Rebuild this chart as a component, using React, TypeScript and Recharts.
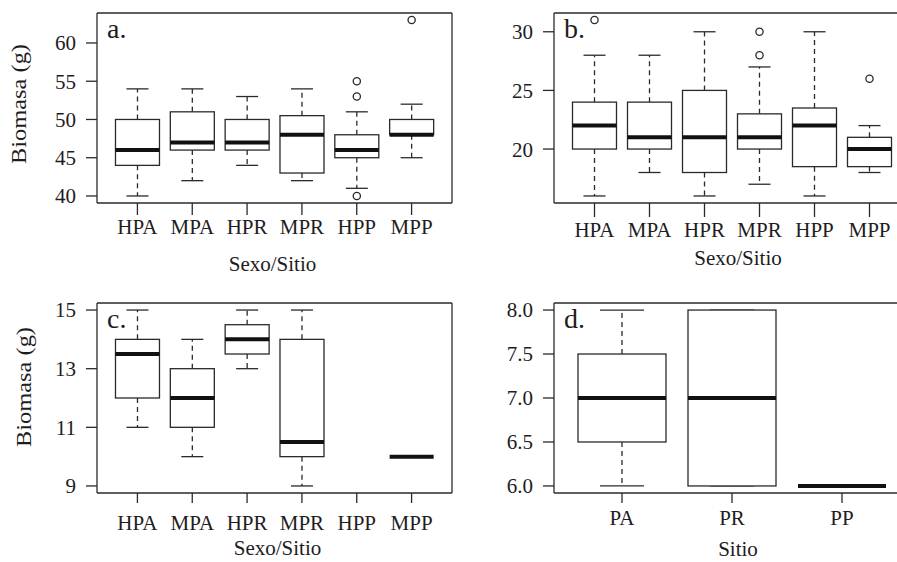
import { Bar, ComposedChart, XAxis, YAxis } from 'recharts'

const INK = '#1e1c1d'
const LINE = '#2a2a2a'
const FONT = '"Liberation Serif", "DejaVu Serif", serif'

// a. biomasa por sexo/sitio
const sexoSitio = ['HPA', 'MPA', 'HPR', 'MPR', 'HPP', 'MPP']
const aLow = [40, 42, 44, 42, 41, 45]
const aQ1 = [44, 46, 46, 43, 45, 48]
const aMedian = [46, 47, 47, 48, 46, 48]
const aQ3 = [50, 51, 50, 50.5, 48, 50]
const aHigh = [54, 54, 53, 54, 51, 52]
const aOutliers = [[], [], [], [], [55, 53, 40], [63]]
const aTicks = [40, 45, 50, 55, 60]

// b.
const bLow = [16, 18, 16, 17, 16, 18]
const bQ1 = [20, 20, 18, 20, 18.5, 18.5]
const bMedian = [22, 21, 21, 21, 22, 20]
const bQ3 = [24, 24, 25, 23, 23.5, 21]
const bHigh = [28, 28, 30, 27, 30, 22]
const bOutliers = [[31], [], [], [30, 28], [], [26]]
const bTicks = [20, 25, 30]

// c. (HPP sin datos)
const cLow = [11, 10, 13, 9, null, 10]
const cQ1 = [12, 11, 13.5, 10, null, 10]
const cMedian = [13.5, 12, 14, 10.5, null, 10]
const cQ3 = [14, 13, 14.5, 14, null, 10]
const cHigh = [15, 14, 15, 15, null, 10]
const cOutliers = [[], [], [], [], [], []]
const cTicks = [9, 11, 13, 15]

// d. por sitio
const sitio = ['PA', 'PR', 'PP']
const dLow = [6, 6, 6]
const dQ1 = [6.5, 6, 6]
const dMedian = [7, 7, 6]
const dQ3 = [7.5, 8, 6]
const dHigh = [8, 8, 6]
const dOutliers = [[], [], []]
const dTicks = [6, 6.5, 7, 7.5, 8]

function buildRows(cats, low, q1, median, q3, high, outliers) {
  return cats.map((cat, i) => {
    if (low[i] == null) return { cat, span: null }
    const out = outliers[i] || []
    return {
      cat,
      low: low[i],
      q1: q1[i],
      median: median[i],
      q3: q3[i],
      high: high[i],
      outliers: out,
      span: [Math.min(low[i], ...out), Math.max(high[i], ...out)],
    }
  })
}

// like R: data range stretched by 4% each side
function padDomain(rows) {
  const vals = rows.filter((r) => r.span).flatMap((r) => r.span)
  const lo = Math.min(...vals)
  const hi = Math.max(...vals)
  const d = (hi - lo) * 0.04
  return [lo - d, hi + d]
}

function BoxShape(props) {
  const { x, y, width, height, payload } = props
  if (!payload || !payload.span) return null
  const [lo, hi] = payload.span
  const top = Math.min(y, y + height)
  const bottom = Math.max(y, y + height)
  const py = (v) => (hi === lo ? top : bottom - ((v - lo) / (hi - lo)) * (bottom - top))
  const cx = x + width / 2
  const cap = width / 4
  const yLow = py(payload.low)
  const yQ1 = py(payload.q1)
  const yMed = py(payload.median)
  const yQ3 = py(payload.q3)
  const yHigh = py(payload.high)
  return (
    <g>
      <line x1={cx} x2={cx} y1={yQ3} y2={yHigh} stroke={LINE} strokeWidth={1.3} strokeDasharray="5 4" />
      <line x1={cx} x2={cx} y1={yQ1} y2={yLow} stroke={LINE} strokeWidth={1.3} strokeDasharray="5 4" />
      <line x1={cx - cap} x2={cx + cap} y1={yHigh} y2={yHigh} stroke={LINE} strokeWidth={1.3} />
      <line x1={cx - cap} x2={cx + cap} y1={yLow} y2={yLow} stroke={LINE} strokeWidth={1.3} />
      <rect x={x} y={yQ3} width={width} height={Math.max(0, yQ1 - yQ3)} fill="#fff" stroke={LINE} strokeWidth={1.3} />
      <line x1={x} x2={x + width} y1={yMed} y2={yMed} stroke="#111" strokeWidth={4} />
      {payload.outliers.map((v, i) => (
        <circle key={i} cx={cx} cy={py(v)} r={3.6} fill="none" stroke={LINE} strokeWidth={1.3} />
      ))}
    </g>
  )
}

function Panel(p) {
  const domain = padDomain(p.rows)
  return (
    <div style={{ position: 'absolute', left: p.left, top: p.top }}>
      <ComposedChart
        width={p.width}
        height={p.height}
        data={p.rows}
        barCategoryGap="10%"
        margin={{ top: p.marginTop - 1, right: p.marginRight - 1, bottom: 0, left: 0 }}
      >
        <XAxis
          dataKey="cat"
          interval={0}
          height={p.xAxisHeight}
          padding={{ left: 13, right: 13 }}
          axisLine={{ stroke: LINE, strokeWidth: 1.3 }}
          tickLine={{ stroke: LINE, strokeWidth: 1.3 }}
          tickSize={p.xTickSize}
          tickMargin={p.xTickMargin}
          tick={{ fontSize: 21, fill: INK, fontFamily: FONT }}
          label={(lp) => {
            const vb = lp.viewBox
            return (
              <text x={vb.x + vb.width / 2 + p.titleDx} y={vb.y + p.titleOffset} textAnchor="middle" fontSize={21} fill={INK} fontFamily={FONT}>
                {p.xTitle}
              </text>
            )
          }}
        />
        <XAxis
          xAxisId="top"
          dataKey="cat"
          orientation="top"
          height={1}
          padding={{ left: 13, right: 13 }}
          tick={false}
          tickLine={false}
          axisLine={{ stroke: LINE, strokeWidth: 1.3 }}
          label={(lp) => {
            const vb = lp.viewBox
            return (
              <text x={vb.x + 10} y={vb.y + vb.height + 25} fontSize={28} fill={INK} fontFamily={FONT}>
                {p.letter}
              </text>
            )
          }}
        />
        <YAxis
          width={p.yAxisWidth}
          domain={domain}
          ticks={p.ticks}
          interval={0}
          tickFormatter={p.tickFormat}
          axisLine={{ stroke: LINE, strokeWidth: 1.3 }}
          tickLine={{ stroke: LINE, strokeWidth: 1.3 }}
          tickSize={11}
          tickMargin={10}
          tick={{ fontSize: 21, fill: INK, fontFamily: FONT }}
          label={
            p.yTitle
              ? (lp) => {
                  const vb = lp.viewBox
                  const cy = vb.y + vb.height / 2 + p.yTitleDy
                  return (
                    <text
                      x={p.yTitleX}
                      y={cy}
                      transform={`rotate(-90 ${p.yTitleX} ${cy})`}
                      textAnchor="middle"
                      fontSize={21}
                      textLength={120}
                      lengthAdjust="spacingAndGlyphs"
                      fill={INK}
                      fontFamily={FONT}
                    >
                      {p.yTitle}
                    </text>
                  )
                }
              : undefined
          }
        />
        <YAxis
          yAxisId="right"
          orientation="right"
          width={1}
          domain={domain}
          tick={false}
          tickLine={false}
          axisLine={{ stroke: LINE, strokeWidth: 1.3 }}
        />
        <Bar dataKey="span" shape={BoxShape} isAnimationActive={false} />
      </ComposedChart>
    </div>
  )
}

const rowsA = buildRows(sexoSitio, aLow, aQ1, aMedian, aQ3, aHigh, aOutliers)
const rowsB = buildRows(sexoSitio, bLow, bQ1, bMedian, bQ3, bHigh, bOutliers)
const rowsC = buildRows(sexoSitio, cLow, cQ1, cMedian, cQ3, cHigh, cOutliers)
const rowsD = buildRows(sitio, dLow, dQ1, dMedian, dQ3, dHigh, dOutliers)

export default function App() {
  return (
    <div
      style={{
        position: 'absolute',
        left: 0,
        top: 0,
        width: 897,
        height: 562,
        overflow: 'hidden',
        background: '#fff',
        fontFamily: FONT,
      }}
    >
      <Panel
        rows={rowsA}
        ticks={aTicks}
        letter="a."
        xTitle="Sexo/Sitio"
        yTitle="Biomasa (g)"
        yTitleX={26}
        yTitleDy={-4}
        left={0}
        top={0}
        width={460}
        height={280}
        yAxisWidth={97}
        marginTop={13}
        marginRight={8}
        xAxisHeight={77}
        xTickSize={12}
        xTickMargin={4}
        titleOffset={68}
        titleDx={-2}
      />
      <Panel
        rows={rowsB}
        ticks={bTicks}
        letter="b."
        xTitle="Sexo/Sitio"
        left={447}
        top={0}
        width={465}
        height={280}
        yAxisWidth={107}
        marginTop={13}
        marginRight={2}
        xAxisHeight={77}
        xTickSize={14}
        xTickMargin={5}
        titleOffset={62}
        titleDx={6}
      />
      <Panel
        rows={rowsC}
        ticks={cTicks}
        letter="c."
        xTitle="Sexo/Sitio"
        yTitle="Biomasa (g)"
        yTitleX={31}
        yTitleDy={-11}
        left={0}
        top={280}
        width={460}
        height={282}
        yAxisWidth={97}
        marginTop={23}
        marginRight={8}
        xAxisHeight={69}
        xTickSize={10}
        xTickMargin={12}
        titleOffset={62}
        titleDx={3}
      />
      <Panel
        rows={rowsD}
        ticks={dTicks}
        tickFormat={(v) => v.toFixed(1)}
        letter="d."
        xTitle="Sitio"
        left={447}
        top={280}
        width={465}
        height={282}
        yAxisWidth={107}
        marginTop={23}
        marginRight={2}
        xAxisHeight={69}
        xTickSize={10}
        xTickMargin={7}
        titleOffset={63}
        titleDx={6}
      />
    </div>
  )
}
